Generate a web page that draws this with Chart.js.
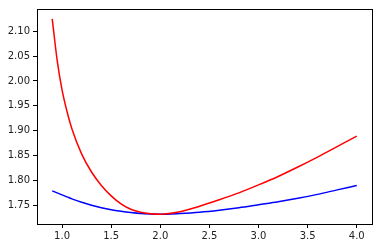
<!DOCTYPE html>
<html>
<head>
<meta charset="utf-8">
<script src="https://cdn.jsdelivr.net/npm/chart.js@4"></script>
<style>
body{margin:0;background:#fff;}
#wrap{width:378px;height:248px;}
</style>
</head>
<body>
<div id="wrap"><canvas id="lineChart" width="378" height="248"></canvas></div>
<script>
const xValues = [0.9,0.95,1.0,1.05,1.1,1.2,1.3,1.4,1.5,1.6,1.7,1.8,1.9,2.0,2.2,2.4,2.6,2.8,3.0,3.2,3.4,3.6,3.8,4.0];
const blueValues = [1.779,1.775,1.771,1.767,1.763,1.756,1.750,1.745,1.741,1.738,1.7355,1.7335,1.7325,1.732,1.7335,1.736,1.740,1.745,1.751,1.757,1.764,1.772,1.781,1.790];
const redValues = [2.125,2.042,1.982,1.939,1.904,1.853,1.817,1.790,1.769,1.753,1.742,1.736,1.733,1.732,1.737,1.748,1.761,1.775,1.791,1.808,1.827,1.847,1.868,1.889];
const xTicks = [1.0,1.5,2.0,2.5,3.0,3.5,4.0];
const yTicks = [1.75,1.80,1.85,1.90,1.95,2.00,2.05,2.10];

const toPoints = ys => xValues.map((x,i)=>({x:x,y:ys[i]}));

const frame = {
id:"frame",
afterDraw(chart){
const a = chart.chartArea;
const ctx = chart.ctx;
ctx.save();
ctx.strokeStyle = "#000";
ctx.lineWidth = 1;
ctx.strokeRect(Math.round(a.left)+0.5, Math.round(a.top)+0.5, Math.round(a.right-a.left), Math.round(a.bottom-a.top));
ctx.restore();
}
};

const tickFont = {family:"DejaVu Sans", size:10};

new Chart(
document.getElementById("lineChart"),
{
type:"line",
data:{
datasets:[
{
data:toPoints(blueValues),
borderColor:"#0000ff",
borderWidth:1.5,
pointRadius:0,
cubicInterpolationMode:"monotone",
order:2
},
{
data:toPoints(redValues),
borderColor:"#ff0000",
borderWidth:1.5,
pointRadius:0,
cubicInterpolationMode:"monotone",
order:1
}
]
},
options:{
responsive:false,
animation:false,
events:[],
layout:{padding:{left:0,right:6,top:6,bottom:0}},
plugins:{legend:{display:false},tooltip:{enabled:false}},
scales:{
x:{
type:"linear",
min:0.745,
max:4.155,
afterBuildTicks:s=>{ s.ticks = xTicks.map(v=>({value:v})); },
afterFit:s=>{ s.height = 24; },
grid:{drawOnChartArea:false,drawTicks:true,tickLength:4,color:"#000"},
border:{display:true,color:"#000"},
ticks:{
color:"#222",
font:tickFont,
padding:2,
maxRotation:0,
autoSkip:false,
callback:v=>Number(v).toFixed(1)
}
},
y:{
type:"linear",
min:1.7124,
max:2.1447,
afterBuildTicks:s=>{ s.ticks = yTicks.map(v=>({value:v})); },
afterFit:s=>{ s.width = 37; },
grid:{drawOnChartArea:false,drawTicks:true,tickLength:4,color:"#000"},
border:{display:true,color:"#000"},
ticks:{
color:"#222",
font:tickFont,
padding:3,
autoSkip:false,
callback:v=>Number(v).toFixed(2)
}
}
}
},
plugins:[frame]
}
);
</script>
</body>
</html>
